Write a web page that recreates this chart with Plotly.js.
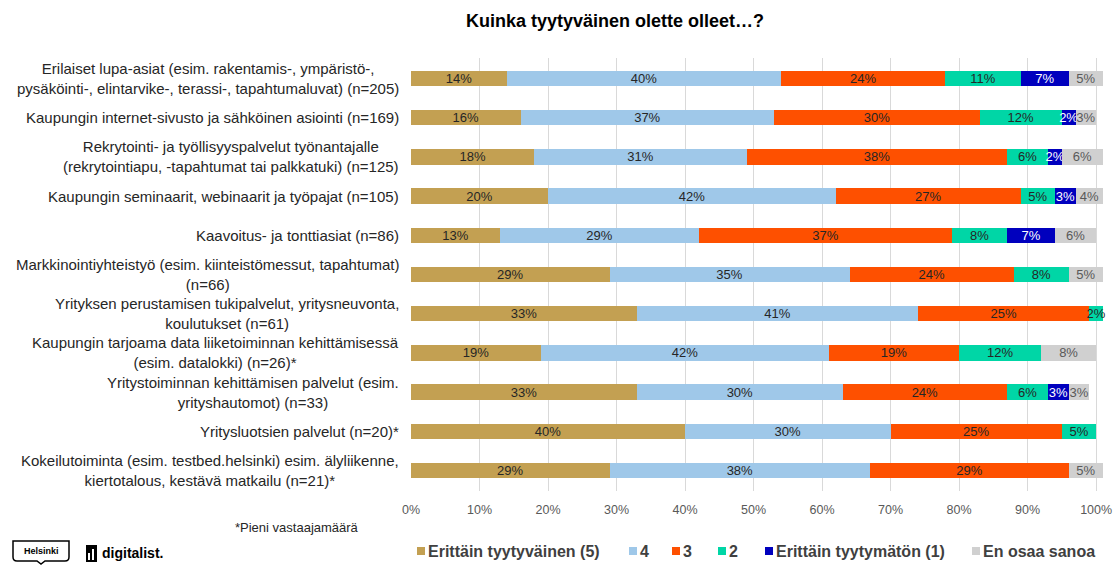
<!DOCTYPE html>
<html>
<head>
<meta charset="utf-8">
<script src="https://cdn.plot.ly/plotly-3.0.1.min.js"></script>
<style>html,body{margin:0;padding:0;background:#fff;}#chart{width:1118px;height:566px;}</style>
</head>
<body>
<div id="chart"></div>
<script>
// ---- data ----
const categories = [
  "Erilaiset lupa-asiat (esim. rakentamis-, ympäristö-,<br>pysäköinti-, elintarvike-, terassi-, tapahtumaluvat) (n=205)",
  "Kaupungin internet-sivusto ja sähköinen asiointi (n=169)",
  "Rekrytointi- ja työllisyyspalvelut työnantajalle<br>(rekrytointiapu, -tapahtumat tai palkkatuki) (n=125)",
  "Kaupungin seminaarit, webinaarit ja työpajat (n=105)",
  "Kaavoitus- ja tonttiasiat (n=86)",
  "Markkinointiyhteistyö (esim. kiinteistömessut, tapahtumat)<br>(n=66)",
  "Yrityksen perustamisen tukipalvelut, yritysneuvonta,<br>koulutukset (n=61)",
  "Kaupungin tarjoama data liiketoiminnan kehittämisessä<br>(esim. datalokki) (n=26)*",
  "Yritystoiminnan kehittämisen palvelut (esim.<br>yrityshautomot) (n=33)",
  "Yritysluotsien palvelut (n=20)*",
  "Kokeilutoiminta (esim. testbed.helsinki) esim. älyliikenne,<br>kiertotalous, kestävä matkailu (n=21)*"
];
const seriesNames = ["Erittäin tyytyväinen (5)", "4", "3", "2", "Erittäin tyytymätön (1)", "En osaa sanoa"];
const vals5   = [14, 16, 18, 20, 13, 29, 33, 19, 33, 40, 29];
const vals4   = [40, 37, 31, 42, 29, 35, 41, 42, 30, 30, 38];
const vals3   = [24, 30, 38, 27, 37, 24, 25, 19, 24, 25, 29];
const vals2   = [11, 12, 6, 5, 8, 8, 2, 12, 6, 5, null];
const vals1   = [7, 2, 2, 3, 7, null, null, null, 3, null, null];
const valsEOS = [5, 3, 6, 4, 6, 5, null, 8, 3, null, 5];
const xTicks  = [0, 10, 20, 30, 40, 50, 60, 70, 80, 90, 100];
const footnote = "*Pieni vastaajamäärä";
const titleText = "Kuinka tyytyväinen olette olleet…?";

// ---- styles ----
const seriesValues = [vals5, vals4, vals3, vals2, vals1, valsEOS];
const colors = ["#C3A052", "#9FC8E9", "#FE5000", "#00D6A6", "#0000BE", "#D0D0D0"];
const textColors = ["#262626", "#262626", "#262626", "#262626", "#FFFFFF", "#595959"];
const FONT = "Liberation Sans, Arial, sans-serif";

// plot area in pixels (x range 0..101 so rounded totals above 100 stay visible)
const PL = 411, PR = 1103, PT = 58, PB = 491;
const px = x => (x - PL) / (PR - PL);
const py = y => (PB - y) / (PB - PT);

const traces = seriesValues.map((v, i) => ({
  type: "bar",
  orientation: "h",
  name: seriesNames[i],
  y: categories,
  x: v,
  marker: { color: colors[i], line: { width: 0 } },
  text: v.map(d => d == null ? "" : d + "%"),
  texttemplate: "%{text}",
  textposition: "inside",
  insidetextanchor: "middle",
  textangle: 0,
  insidetextfont: { family: FONT, size: 13, color: textColors[i] },
  cliponaxis: false,
  hoverinfo: "x+y",
  showlegend: false
}));

const annotations = [];
categories.forEach(c => {
  annotations.push({
    xref: "paper", yref: "y", x: px(401), y: c, xanchor: "right", yanchor: "middle",
    align: "center", text: c, showarrow: false,
    font: { family: FONT, size: 15, color: "#262626" }
  });
});

// manual legend
const legendSquareX = [417, 629, 672, 718, 765, 972];
const shapes = [];
seriesNames.forEach((n, i) => {
  const sx = legendSquareX[i];
  shapes.push({
    type: "rect", xref: "paper", yref: "paper",
    x0: px(sx), x1: px(sx + 8), y0: py(555), y1: py(547),
    fillcolor: colors[i], line: { width: 0 }
  });
  annotations.push({
    xref: "paper", yref: "paper", x: px(sx + 9), y: py(551),
    xanchor: "left", yanchor: "middle", text: n, showarrow: false,
    font: { family: FONT, size: 16, color: "#404040", weight: 700 }
  });
});

// footnote
annotations.push({
  xref: "paper", yref: "paper", x: px(233), y: py(527), xanchor: "left", yanchor: "middle",
  text: footnote, showarrow: false, font: { family: FONT, size: 13, color: "#262626" }
});

// Helsinki logo
shapes.push({
  type: "path", xref: "paper", yref: "paper",
  path: `M ${px(13)} ${py(541)} L ${px(69)} ${py(541)} L ${px(69)} ${py(557)} Q ${px(69)} ${py(561)} ${px(65)} ${py(561)} L ${px(45)} ${py(561)} L ${px(41)} ${py(564)} L ${px(37)} ${py(561)} L ${px(17)} ${py(561)} Q ${px(13)} ${py(561)} ${px(13)} ${py(557)} Z`,
  fillcolor: "#FFFFFF", line: { color: "#000000", width: 1.5 }
});
annotations.push({
  xref: "paper", yref: "paper", x: px(41), y: py(551), xanchor: "center", yanchor: "middle",
  text: "Helsinki", showarrow: false, font: { family: FONT, size: 9, color: "#000", weight: 700 }
});
// digitalist logo
shapes.push({ type: "rect", xref: "paper", yref: "paper", x0: px(86), x1: px(97), y0: py(562), y1: py(545), fillcolor: "#000", line: { width: 0 } });
shapes.push({ type: "rect", xref: "paper", yref: "paper", x0: px(88), x1: px(90), y0: py(560), y1: py(553), fillcolor: "#FFF", line: { width: 0 } });
shapes.push({ type: "rect", xref: "paper", yref: "paper", x0: px(92), x1: px(94), y0: py(560), y1: py(549), fillcolor: "#FFF", line: { width: 0 } });
annotations.push({
  xref: "paper", yref: "paper", x: px(100), y: py(553), xanchor: "left", yanchor: "middle",
  text: "digitalist.", showarrow: false, font: { family: FONT, size: 14, color: "#000", weight: 700 }
});

const layout = {
  width: 1118, height: 566,
  margin: { l: PL, r: 1118 - PR, t: PT, b: 566 - PB, pad: 0 },
  paper_bgcolor: "#FFFFFF", plot_bgcolor: "#FFFFFF",
  font: { family: FONT, size: 12, color: "#262626" },
  title: {
    text: titleText, xref: "container", yref: "container",
    x: 615 / 1118, xanchor: "center", y: 1 - 21 / 566, yanchor: "middle",
    font: { family: FONT, size: 18, color: "#000000", weight: 700 }
  },
  barmode: "stack",
  bargap: 0.61,
  showlegend: false,
  uniformtext: { mode: "show", minsize: 13 },
  xaxis: {
    range: [0, 101], tickvals: xTicks, ticktext: xTicks.map(t => t + "%"),
    showgrid: true, gridcolor: "#D9D9D9", gridwidth: 1, zeroline: false, showline: false,
    ticks: "", ticklabelstandoff: 9,
    tickfont: { family: FONT, size: 12.5, color: "#595959" }, fixedrange: true
  },
  yaxis: {
    type: "category", autorange: "reversed", showticklabels: false,
    showgrid: false, zeroline: false, showline: false, ticks: "", fixedrange: true
  },
  annotations: annotations,
  shapes: shapes
};

Plotly.newPlot("chart", traces, layout, { displayModeBar: false, staticPlot: true });
</script>
</body>
</html>
